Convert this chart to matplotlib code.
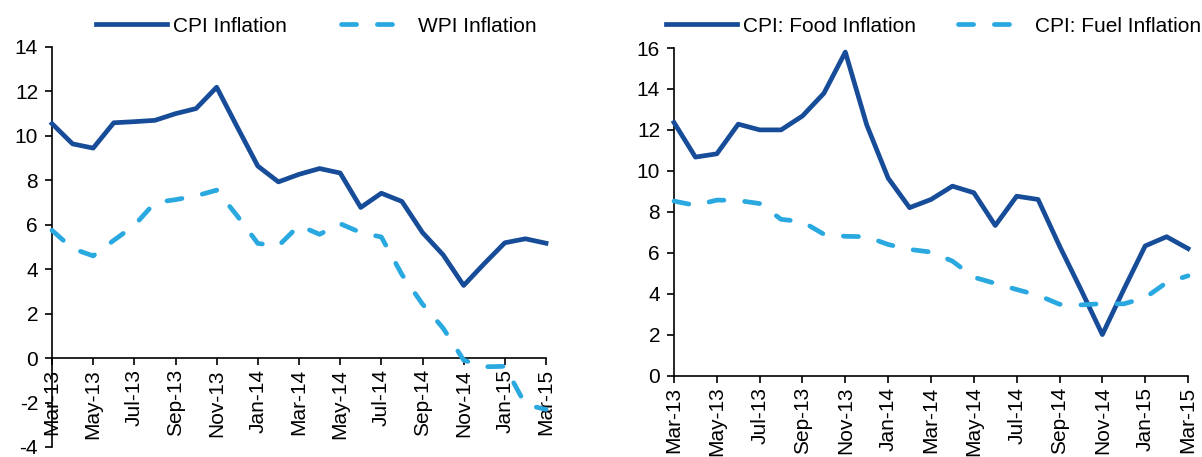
import matplotlib.pyplot as plt
import numpy as np

plt.rcParams['font.family'] = ['Liberation Sans', 'DejaVu Sans']
plt.rcParams['axes.unicode_minus'] = False

months = ['Mar-13', 'Apr-13', 'May-13', 'Jun-13', 'Jul-13', 'Aug-13', 'Sep-13',
          'Oct-13', 'Nov-13', 'Dec-13', 'Jan-14', 'Feb-14', 'Mar-14', 'Apr-14',
          'May-14', 'Jun-14', 'Jul-14', 'Aug-14', 'Sep-14', 'Oct-14', 'Nov-14',
          'Dec-14', 'Jan-15', 'Feb-15', 'Mar-15']

cpi = [10.55, 9.64, 9.45, 10.59, 10.64, 10.70, 11.0, 11.23, 12.19, 10.4, 8.64,
       7.93, 8.27, 8.53, 8.33, 6.78, 7.42, 7.05, 5.65, 4.65, 3.27, 4.25, 5.19,
       5.37, 5.17]
wpi = [5.75, 4.93, 4.6, 5.3, 5.97, 7.0, 7.13, 7.3, 7.56, 6.4, 5.16, 5.05, 5.97,
       5.57, 6.05, 5.65, 5.45, 3.76, 2.43, 1.35, -0.09, -0.39, -0.37, -2.09,
       -2.31]

food = [12.36, 10.67, 10.83, 12.28, 12.0, 12.0, 12.68, 13.79, 15.8, 12.24, 9.64,
        8.2, 8.6, 9.25, 8.93, 7.33, 8.76, 8.6, 6.33, 4.2, 2.0, 4.2, 6.33, 6.78,
        6.2]
fuel = [8.52, 8.31, 8.57, 8.55, 8.4, 7.63, 7.51, 6.9, 6.8, 6.78, 6.4, 6.16, 6.03,
        5.59, 4.8, 4.5, 4.2, 3.92, 3.48, 3.45, 3.51, 3.5, 3.8, 4.54, 4.87]

DARK = '#174C98'
LIGHT = '#2AA8E0'
LW = 3.4
DASH = (0, (3.2, 4.4))

W, H = 1202, 457
fig = plt.figure(figsize=(W / 100, H / 100), dpi=100)
ax = fig.add_axes([52 / W, 1 - 447 / H, (546 - 52) / W, (447 - 47) / H])
ax1 = fig.add_axes([674 / W, 1 - 375.5 / H, (1188 - 674) / W, (375.5 - 48) / H])

x = np.arange(len(months))

# left chart: x axis crosses at zero
ax.spines['bottom'].set_position(('data', 0))


def style(a, ylo, yhi):
    a.set_xlim(0, len(months) - 1)
    a.set_ylim(ylo, yhi)
    a.set_yticks(np.arange(ylo, yhi + 1, 2))
    a.set_xticks(x[::2])
    a.set_xticklabels(months[::2], rotation=90)
    a.spines['top'].set_visible(False)
    a.spines['right'].set_visible(False)
    a.spines['left'].set_linewidth(1.2)
    a.spines['bottom'].set_linewidth(1.2)
    a.tick_params(direction='out', length=5, width=1.2, labelsize=15)
    a.tick_params(axis='y', pad=5)
    a.tick_params(axis='x', pad=3)


ax.plot(x, cpi, color=DARK, lw=LW, label='CPI Inflation', clip_on=False, zorder=3)
ax.plot(x, wpi, color=LIGHT, lw=LW, linestyle=DASH, dash_capstyle='round',
        label='WPI Inflation', clip_on=False, zorder=3)
style(ax, -4, 14)

ax1.plot(x, food, color=DARK, lw=LW, label='CPI: Food Inflation', clip_on=False, zorder=3)
ax1.plot(x, fuel, color=LIGHT, lw=LW, linestyle=DASH, dash_capstyle='round',
         label='CPI: Fuel Inflation', clip_on=False, zorder=3)
style(ax1, 0, 16)

ax.legend(loc='center left', bbox_to_anchor=(96 / W, 1 - 26 / H),
          bbox_transform=fig.transFigure, ncol=2, frameon=False, fontsize=15,
          handlelength=3.4, handletextpad=0.3, columnspacing=2.6,
          borderpad=0, borderaxespad=0)
ax1.legend(loc='center left', bbox_to_anchor=(666 / W, 1 - 26 / H),
           bbox_transform=fig.transFigure, ncol=2, frameon=False, fontsize=15,
           handlelength=3.4, handletextpad=0.3, columnspacing=2.0,
           borderpad=0, borderaxespad=0)

fig.savefig('out.png', dpi=100)
